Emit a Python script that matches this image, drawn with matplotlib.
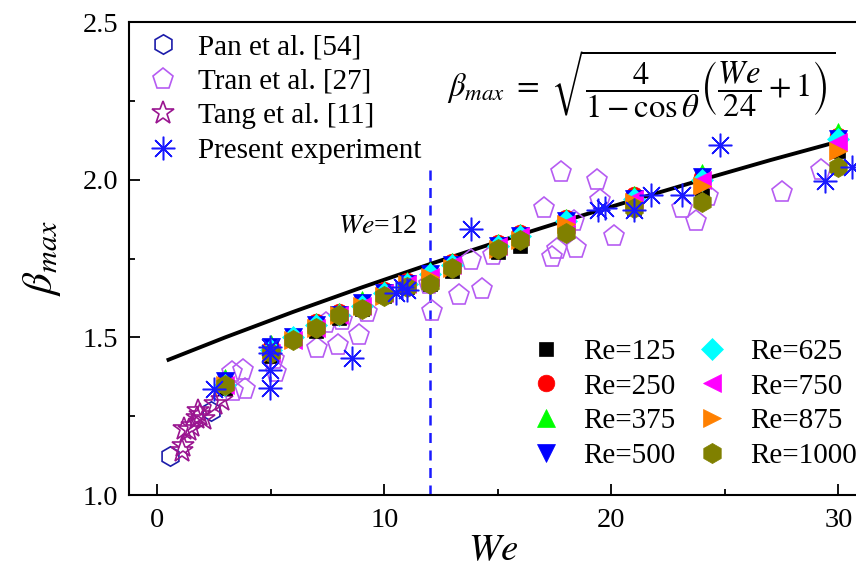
import matplotlib
matplotlib.use("Agg")
import matplotlib.pyplot as plt

plt.rcParams['font.family'] = ['Liberation Serif', 'DejaVu Serif']
plt.rcParams['mathtext.fontset'] = 'stix'

# ---------------- data ----------------
we_re = [3, 5, 6, 7, 8, 9, 10, 11, 12, 13, 15, 16, 18, 21, 24, 30]
re_labels = ['Re=125', 'Re=250', 'Re=375', 'Re=500', 'Re=625', 'Re=750', 'Re=875', 'Re=1000']
beta_re125 = [1.34, 1.44, 1.49, 1.52, 1.56, 1.59, 1.63, 1.66, 1.67, 1.71, 1.77, 1.79, 1.84, 1.91, 1.96, 2.09]
beta_re250 = [1.36, 1.47, 1.50, 1.55, 1.58, 1.61, 1.65, 1.68, 1.70, 1.74, 1.80, 1.83, 1.88, 1.95, 2.01, 2.14]
beta_re375 = [1.37, 1.48, 1.50, 1.55, 1.58, 1.62, 1.65, 1.68, 1.71, 1.74, 1.80, 1.83, 1.88, 1.95, 2.02, 2.15]
beta_re500 = [1.36, 1.47, 1.50, 1.54, 1.57, 1.61, 1.64, 1.67, 1.70, 1.73, 1.79, 1.82, 1.87, 1.94, 2.01, 2.13]
beta_re625 = [1.35, 1.46, 1.50, 1.54, 1.57, 1.60, 1.64, 1.67, 1.70, 1.73, 1.79, 1.82, 1.87, 1.94, 2.00, 2.13]
beta_re750 = [1.35, 1.45, 1.49, 1.53, 1.57, 1.60, 1.64, 1.67, 1.69, 1.73, 1.79, 1.82, 1.86, 1.94, 2.00, 2.12]
beta_re875 = [1.35, 1.45, 1.49, 1.53, 1.57, 1.60, 1.63, 1.67, 1.69, 1.72, 1.78, 1.81, 1.86, 1.93, 1.98, 2.09]
beta_re1000 = [1.35, 1.45, 1.49, 1.53, 1.57, 1.59, 1.63, 1.66, 1.67, 1.72, 1.78, 1.81, 1.83, 1.91, 1.93, 2.04]

we_pan = [0.55, 2.35]
beta_pan = [1.125, 1.265]

we_tran = [3.3, 3.8, 3.35, 3.85, 5.15, 5.25, 7.05, 7.95, 8.9, 7.45, 8.15, 9.25, 11.95, 12.1,
           13.3, 14.3, 13.8, 14.8, 17.05, 17.4, 17.6, 18.45, 18.35, 17.8, 19.35, 19.5, 20.1,
           23.1, 23.75, 24.25, 27.5, 29.25]
beta_tran = [1.39, 1.395, 1.33, 1.335, 1.43, 1.39, 1.465, 1.475, 1.507, 1.545, 1.555, 1.58, 1.67, 1.583,
             1.634, 1.652, 1.745, 1.76, 1.91, 1.756, 1.78, 1.782, 1.87, 2.025, 2.0, 1.935, 1.82,
             1.91, 1.87, 1.948, 1.96, 2.03]

we_tang = [1.1, 1.15, 1.2, 1.4, 1.55, 1.75, 1.8, 1.9, 2.05, 2.55, 2.85]
beta_tang = [1.14, 1.155, 1.21, 1.205, 1.22, 1.245, 1.265, 1.255, 1.24, 1.29, 1.30]

we_exp = [2.5, 4.99, 4.99, 4.99, 4.99, 8.6, 10.5, 10.8, 11.0, 13.8, 19.4, 19.7, 21.0, 21.75,
          23.1, 24.8, 29.4, 30.6]
beta_exp = [1.335, 1.47, 1.449, 1.396, 1.338, 1.434, 1.64, 1.66, 1.65, 1.845, 1.905, 1.91, 1.905,
            1.952, 1.952, 2.11, 1.995, 2.04]

we_model = [0.5, 3, 6, 9, 12, 15, 18, 21, 24, 27, 30]
beta_model = [1.429, 1.500, 1.581, 1.658, 1.732, 1.803, 1.871, 1.936, 2.000, 2.062, 2.121]

we_critical = 12

# ---------------- figure ----------------
fig = plt.figure(figsize=(8.56, 5.76), dpi=100)
ax = fig.add_axes([129 / 856, 0.1406, 1 - 129 / 856 + 0.002, 0.8212])

ax.plot(we_model, beta_model, color='black', lw=2.8, zorder=2)
ax.axvline(we_critical, ymin=0, ymax=0.70, color='#1a1aff', lw=1.8, ls=(0, (4, 3)), zorder=1)

h_pan, = ax.plot(we_pan, beta_pan, ls='none', marker='h', ms=14, mfc='none', mec='#1c1caa', mew=1.2, zorder=3)
h_tran, = ax.plot(we_tran, beta_tran, ls='none', marker='p', ms=15.5, mfc='none', mec='#b65cf2', mew=1.2, zorder=3)
h_tang, = ax.plot(we_tang, beta_tang, ls='none', marker='*', ms=17, mfc='none', mec='#9a1590', mew=1.2, zorder=3)

re_series = [beta_re125, beta_re250, beta_re375, beta_re500, beta_re625, beta_re750, beta_re875, beta_re1000]
re_markers = ['s', 'o', '^', 'v', 'D', '<', '>', 'h']
re_colors = ['#000000', '#ff0000', '#00ff00', '#0000ff', '#00ffff', '#ff00ff', '#ff8000', '#808000']
re_sizes = [10.5, 12, 12.5, 12.5, 11, 12.5, 12.5, 14.5]
re_handles = []
for vals, mk, col, sz, lab in zip(re_series, re_markers, re_colors, re_sizes, re_labels):
    h, = ax.plot(we_re, vals, ls='none', marker=mk, ms=sz, mfc=col, mec=col, mew=0.5, zorder=4, label=lab)
    re_handles.append(h)

h_exp, = ax.plot(we_exp, beta_exp, ls='none', marker=(8, 2, 0), ms=17, mec='#1a1aff', mew=1.1, zorder=5)

ax.set_xlim(-1.24, 30.85)
ax.set_ylim(1.0, 2.5)
ax.set_xticks([0, 10, 20, 30])
ax.set_xticks([5, 15, 25], minor=True)
ax.set_yticks([1.0, 1.5, 2.0, 2.5])
ax.set_yticklabels(['1.0', '1.5', '2.0', '2.5'])
ax.set_yticks([1.25, 1.75, 2.25], minor=True)
ax.tick_params(which='both', direction='in', labelsize=20.5, width=1.3)
ax.tick_params(which='major', length=8)
ax.tick_params(which='minor', length=4.5)
ax.tick_params(axis='x', pad=9)
ax.tick_params(axis='y', pad=8)
for s in ['left', 'bottom', 'top']:
    ax.spines[s].set_linewidth(1.5)
ax.spines['right'].set_visible(False)

ax.set_xlabel('$We$', fontsize=28, labelpad=0)
ax.set_ylabel(r'$\beta_{max}$', fontsize=31, labelpad=14)

ax.text(0.437, 0.868, r'$\beta_{max}\ =\ \sqrt{\dfrac{4}{1-\cos\theta}\left(\dfrac{We}{24}+1\right)}$',
        transform=ax.transAxes, fontsize=23.5, ha='left', va='center')
ax.text(9.7, 1.85, '$We$=12', fontsize=20, ha='center', va='center')

leg1 = ax.legend([h_pan, h_tran, h_tang, h_exp],
                 ['Pan et al. [54]', 'Tran et al. [27]', 'Tang et al. [11]', 'Present experiment'],
                 loc='upper left', bbox_to_anchor=(-0.01, 1.012), frameon=False, fontsize=21,
                 handletextpad=0.4, labelspacing=0.28, handlelength=1.6, borderaxespad=0.2)
ax.add_artist(leg1)
ax.legend(handles=re_handles, loc='lower right', bbox_to_anchor=(1.035, 0.0), ncol=2, frameon=False,
          fontsize=21, handletextpad=0.5, labelspacing=0.28, columnspacing=0.45, handlelength=1.6)

fig.savefig('out.png', dpi=100)
